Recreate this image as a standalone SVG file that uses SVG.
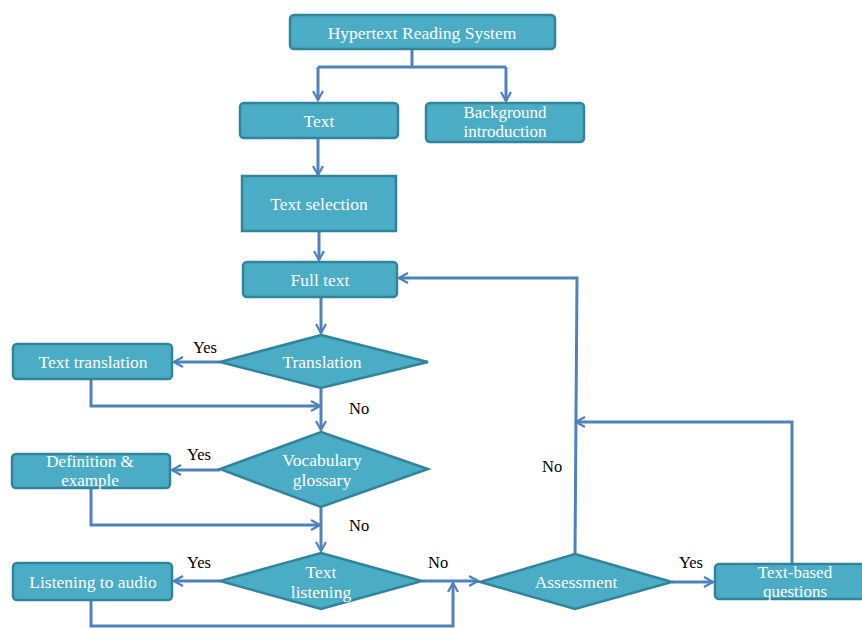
<svg xmlns="http://www.w3.org/2000/svg" width="862" height="628" viewBox="0 0 862 628">
<style>
.n{fill:#4BACC6;stroke:#31849B;stroke-width:2.5}
.t{font-family:'Liberation Serif',serif;font-size:17.5px;fill:#fff;text-anchor:middle}
.t2{font-size:17px}
.l{font-family:'Liberation Serif',serif;font-size:16.5px;fill:#000}
.c{fill:none;stroke:#4F81BD;stroke-width:3;marker-end:url(#a)}
.c2{fill:none;stroke:#4F81BD;stroke-width:3}
</style>
<defs>
<marker id="a" viewBox="0 0 12 12" refX="10" refY="6" markerWidth="4" markerHeight="4" orient="auto" markerUnits="strokeWidth">
<path d="M1,1 L10,6 L1,11" fill="none" stroke="#4F81BD" stroke-width="2.2"/>
</marker>
</defs>
<rect width="862" height="628" fill="#fff"/>
<g id="connectors">
<path class="c2" d="M412,50 V67 M318,67 H506"/>
<path class="c" d="M318,67 V100"/>
<path class="c" d="M506,67 V101"/>
<path class="c" d="M318,138 V175"/>
<path class="c" d="M319,231 V260"/>
<path class="c" d="M321,297 V333"/>
<path class="c" d="M220,362 H174"/>
<path class="c" d="M91,379 V406 H320"/>
<path class="c" d="M321,388 V430"/>
<path class="c" d="M220,470 H172"/>
<path class="c" d="M91,488 V525 H320"/>
<path class="c" d="M321,507 V551"/>
<path class="c" d="M220,581 H174"/>
<path class="c" d="M91,600 V626 H453 V583"/>
<path class="c" d="M422,581 H478"/>
<path class="c" d="M672,582 H713"/>
<path class="c" d="M575,554 L577,278 H399"/>
<path class="c" d="M792,563 V422 H576"/>
</g>
<g id="hrs"><rect class="n" x="290" y="15" width="265" height="34" rx="4"/><text class="t" x="422" y="39">Hypertext Reading System</text></g>
<g id="text"><rect class="n" x="240" y="103" width="158" height="35" rx="4"/><text class="t" x="319" y="127">Text</text></g>
<g id="background"><rect class="n" x="426" y="103" width="158" height="39" rx="4"/><text class="t t2" x="505" y="118">Background</text><text class="t t2" x="505" y="137">introduction</text></g>
<g id="textselection"><rect class="n" x="242" y="176" width="154" height="55"/><text class="t" x="319" y="210">Text selection</text></g>
<g id="fulltext"><rect class="n" x="243" y="262" width="154" height="35" rx="4"/><text class="t" x="320" y="286">Full text</text></g>
<g id="translation"><polygon class="n" points="321,335 428,362 321,388 220,362"/><text class="t" x="322" y="368">Translation</text></g>
<g id="texttranslation"><rect class="n" x="13" y="344" width="159" height="35" rx="4"/><text class="t" x="93" y="368">Text translation</text></g>
<g id="vocab"><polygon class="n" points="321,432 428,469 321,507 220,469"/><text class="t" x="322" y="466">Vocabulary</text><text class="t" x="322" y="486">glossary</text></g>
<g id="definition"><rect class="n" x="12" y="454" width="158" height="34" rx="4"/><text class="t t2" x="90" y="467">Definition &amp;</text><text class="t t2" x="90" y="486">example</text></g>
<g id="textlistening"><polygon class="n" points="321,553 422,581 321,609 220,581"/><text class="t" x="321" y="578">Text</text><text class="t" x="321" y="598">listening</text></g>
<g id="listening"><rect class="n" x="13" y="563" width="159" height="37" rx="4"/><text class="t" x="93" y="588">Listening to audio</text></g>
<g id="assessment"><polygon class="n" points="575,554 672,582 575,609 480,582"/><text class="t" x="576" y="588">Assessment</text></g>
<g id="textbased"><rect class="n" x="715" y="564" width="160" height="35" rx="4"/><text class="t t2" x="795" y="578">Text-based</text><text class="t t2" x="795" y="597">questions</text></g>
<g id="labels">
<text class="l" x="193" y="353">Yes</text>
<text class="l" x="349" y="414">No</text>
<text class="l" x="187" y="460">Yes</text>
<text class="l" x="349" y="531">No</text>
<text class="l" x="187" y="568">Yes</text>
<text class="l" x="428" y="568">No</text>
<text class="l" x="542" y="472">No</text>
<text class="l" x="679" y="568">Yes</text>
</g>
</svg>
